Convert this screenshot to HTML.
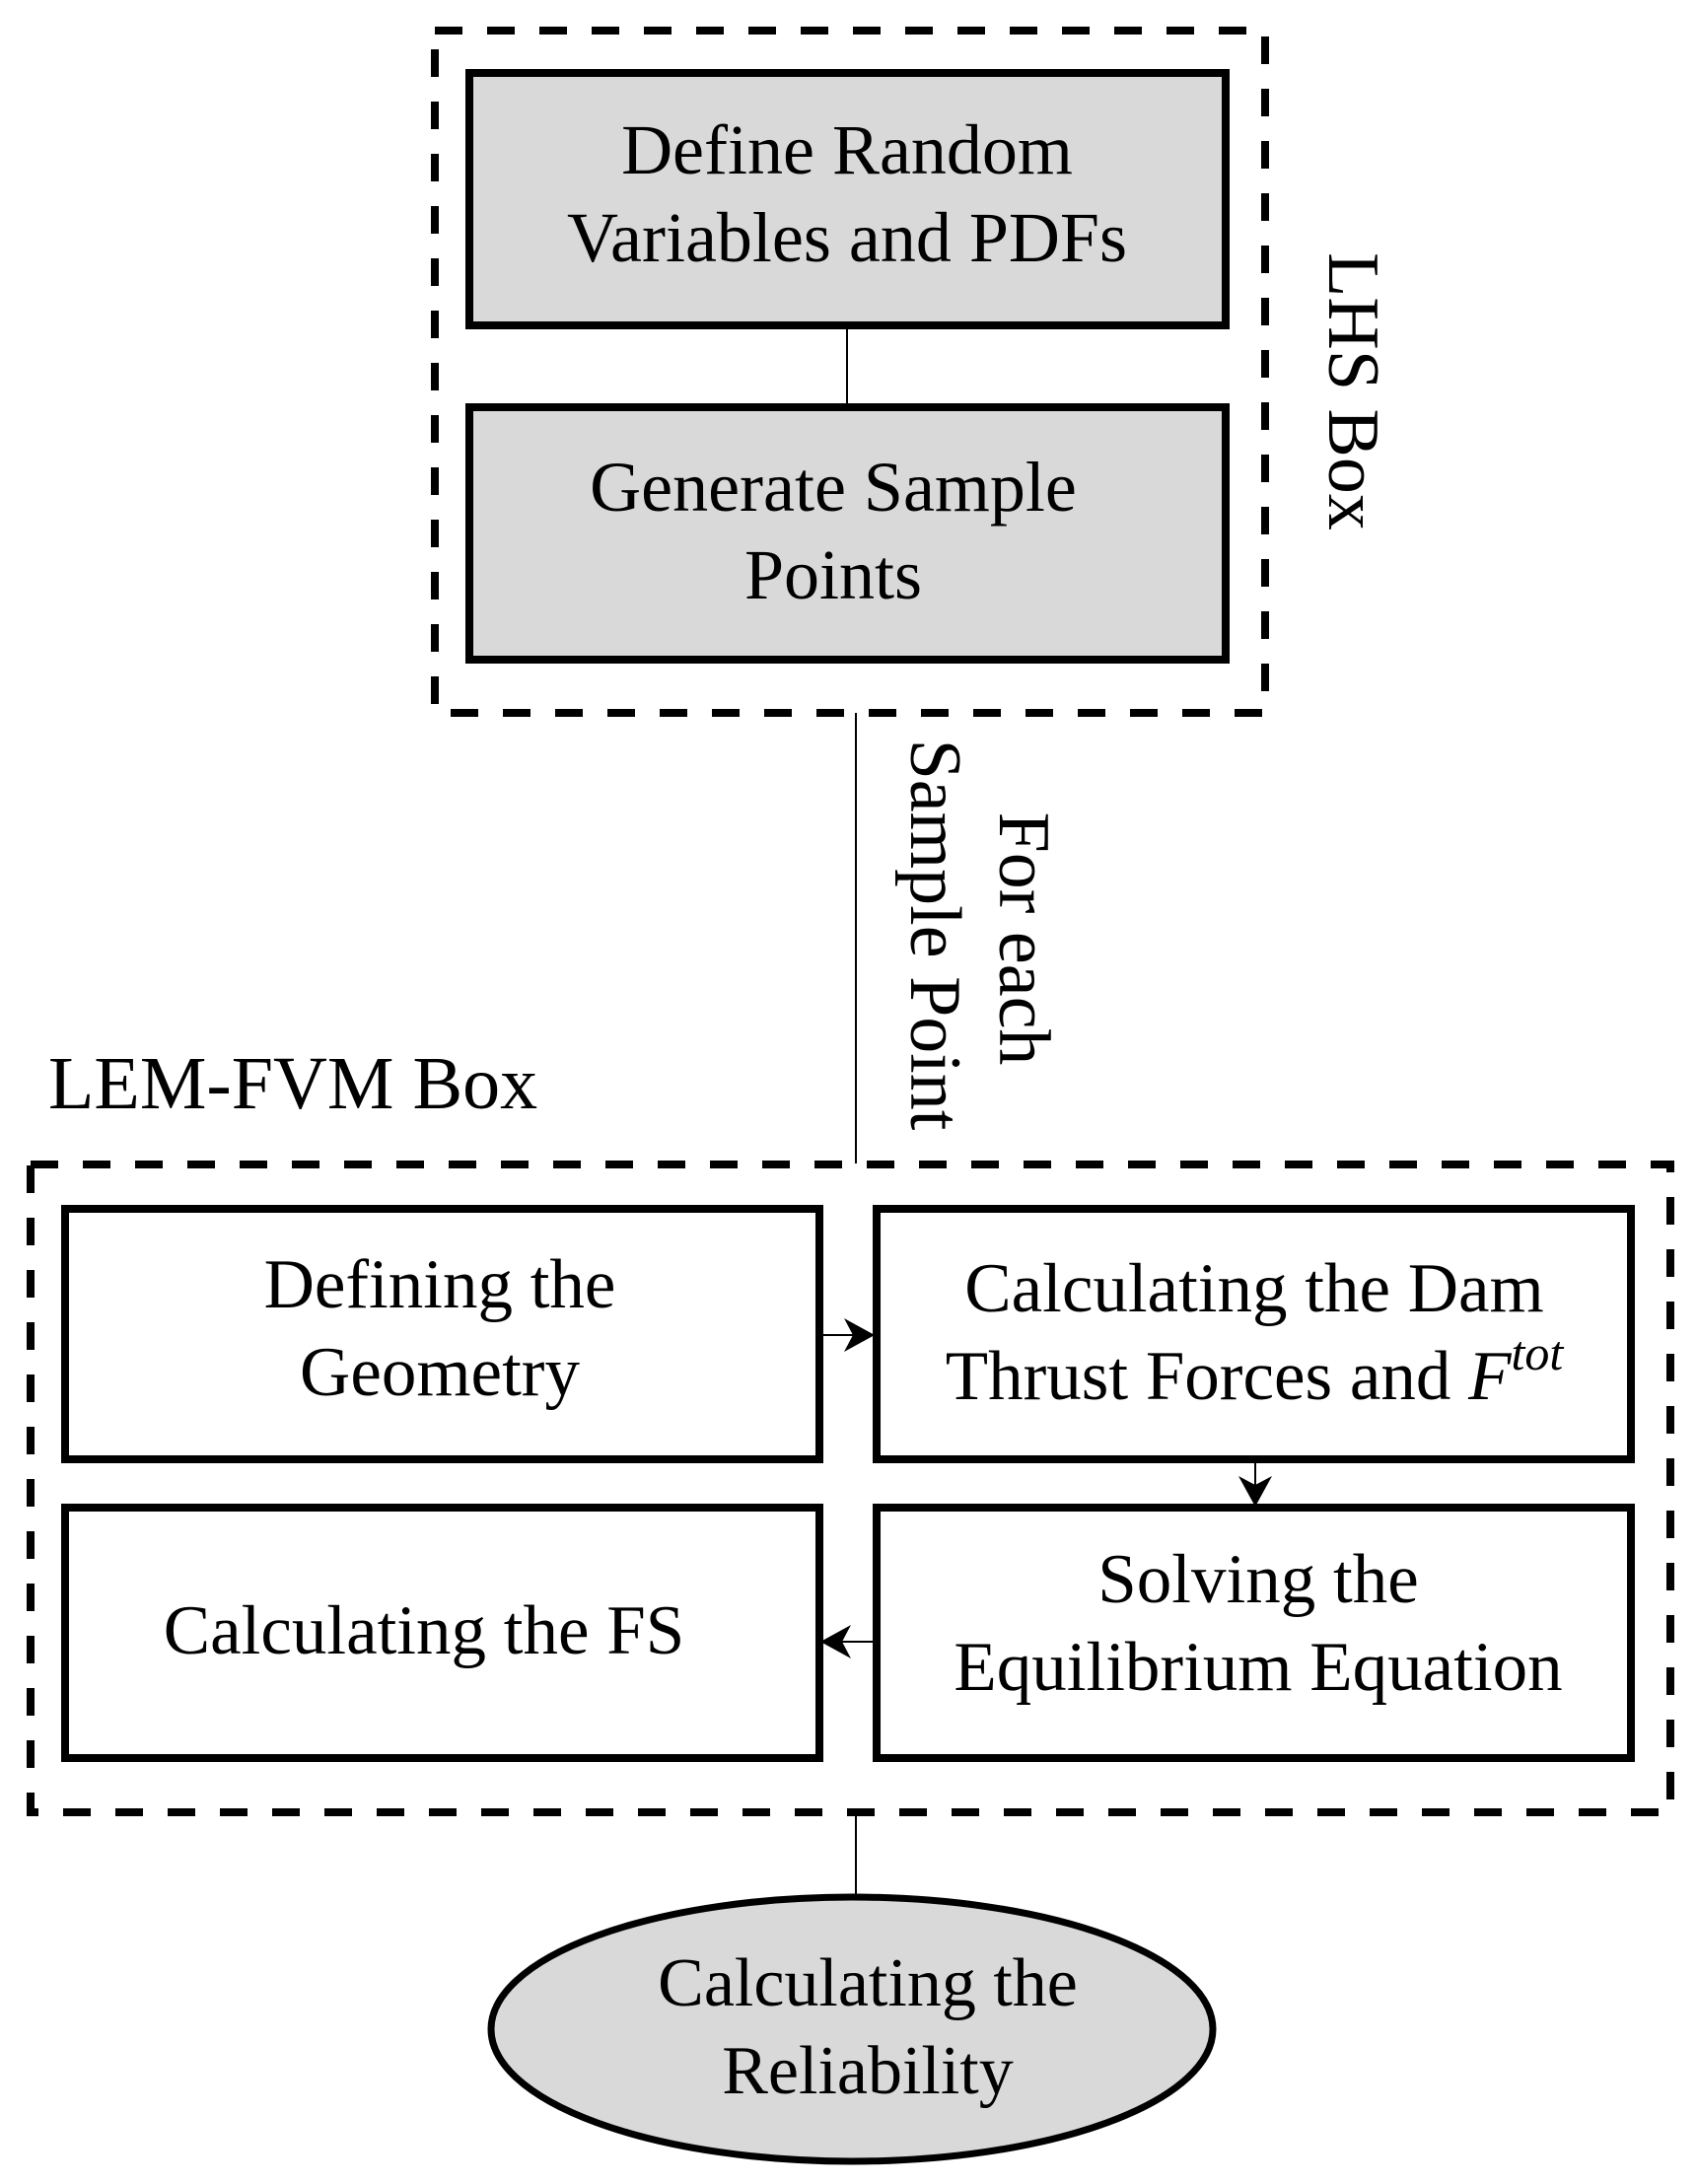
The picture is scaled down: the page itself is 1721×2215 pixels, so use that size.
<!DOCTYPE html>
<html><head><meta charset="utf-8"><style>html,body{margin:0;padding:0;background:#fff}svg{display:block}</style></head>
<body>
<svg width="1721" height="2215" viewBox="0 0 1721 2215" xmlns="http://www.w3.org/2000/svg" font-family="Liberation Serif, serif" fill="#000">
<!-- LHS dashed box -->
<rect x="441" y="31" width="842" height="692" fill="none" stroke="#000" stroke-width="8" stroke-dasharray="28 25"/>
<rect x="476" y="74" width="767" height="256" fill="#d9d9d9" stroke="#000" stroke-width="8"/>
<rect x="476" y="413" width="767" height="256" fill="#d9d9d9" stroke="#000" stroke-width="8"/>
<line x1="859" y1="330" x2="859" y2="413" stroke="#000" stroke-width="2"/>
<g font-size="72" text-anchor="middle">
<text x="859" y="176">Define Random</text>
<text x="859" y="265">Variables and PDFs</text>
<text x="845" y="518">Generate Sample</text>
<text x="845" y="607">Points</text>
</g>
<text transform="translate(1348,397) rotate(90)" font-size="74" text-anchor="middle">LHS Box</text>
<!-- connector -->
<line x1="868" y1="723" x2="868" y2="1180" stroke="#000" stroke-width="2"/>
<text transform="translate(1014,952) rotate(90)" font-size="74" text-anchor="middle">For each</text>
<text transform="translate(924,948) rotate(90)" font-size="74" text-anchor="middle">Sample Point</text>
<text x="49" y="1124" font-size="76">LEM-FVM Box</text>
<!-- LEM dashed box -->
<rect x="31" y="1181" width="1663" height="657" fill="none" stroke="#000" stroke-width="8" stroke-dasharray="28 25"/>
<rect x="66" y="1226" width="765" height="254" fill="#fff" stroke="#000" stroke-width="8"/>
<rect x="889" y="1226" width="765" height="254" fill="#fff" stroke="#000" stroke-width="8"/>
<rect x="66" y="1529" width="765" height="254" fill="#fff" stroke="#000" stroke-width="8"/>
<rect x="889" y="1529" width="765" height="254" fill="#fff" stroke="#000" stroke-width="8"/>
<g font-size="71" text-anchor="middle">
<text x="446" y="1326">Defining the</text>
<text x="446" y="1415">Geometry</text>
<text x="1272" y="1330">Calculating the Dam</text>
<text x="1272" y="1419">Thrust Forces and <tspan font-style="italic">F</tspan><tspan font-style="italic" font-size="50" dy="-30">tot</tspan></text>
<text x="1276" y="1625">Solving the</text>
<text x="1276" y="1714">Equilibrium Equation</text>
<text x="430" y="1677">Calculating the FS</text>
</g>
<!-- arrows -->
<line x1="831" y1="1354" x2="880" y2="1354" stroke="#000" stroke-width="2"/>
<path d="M887 1354 L856 1337 L865 1354 L856 1371 Z"/>
<line x1="1273" y1="1480" x2="1273" y2="1522" stroke="#000" stroke-width="2"/>
<path d="M1273 1528 L1256 1497 L1273 1506 L1290 1497 Z"/>
<line x1="889" y1="1665" x2="838" y2="1665" stroke="#000" stroke-width="2"/>
<path d="M832 1665 L863 1648 L854 1665 L863 1682 Z"/>
<!-- bottom -->
<line x1="868" y1="1838" x2="868" y2="1925" stroke="#000" stroke-width="2"/>
<ellipse cx="864" cy="2058" rx="366" ry="134" fill="#d9d9d9" stroke="#000" stroke-width="7"/>
<g font-size="70" text-anchor="middle">
<text x="880" y="2034">Calculating the</text>
<text x="880" y="2123">Reliability</text>
</g>
</svg>
</body></html>
